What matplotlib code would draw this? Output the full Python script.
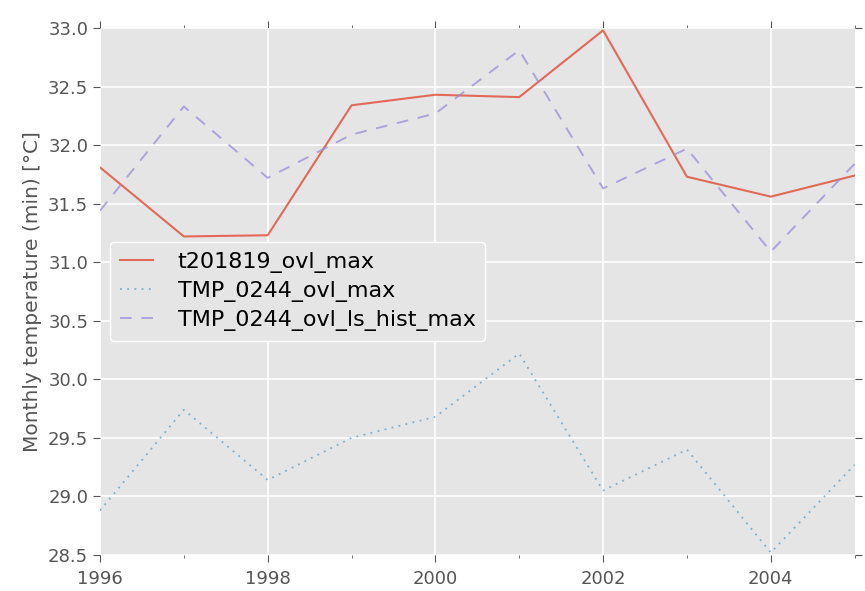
import numpy as np
import matplotlib.pyplot as plt
from matplotlib.ticker import MultipleLocator

years = np.arange(1996, 2006)
t201819_ovl_max = [31.81, 31.22, 31.23, 32.34, 32.43, 32.41, 32.98, 31.73, 31.56, 31.74]
tmp_ovl_max = [28.88, 29.74, 29.14, 29.50, 29.68, 30.22, 29.05, 29.40, 28.52, 29.27]
tmp_ls_hist_max = [31.44, 32.33, 31.72, 32.09, 32.27, 32.81, 31.63, 31.97, 31.09, 31.84]

plt.style.use('ggplot')
plt.rcParams['font.family'] = ['DejaVu Sans']

fig = plt.figure(figsize=(8.65, 5.91), dpi=100)
ax = fig.add_axes([0.1156, 0.061, 0.8724, 0.8916])

ax.plot(years, t201819_ovl_max, color='#E24A33', alpha=0.8, lw=1.5, ls='-', label='t201819_ovl_max')
ax.plot(years, tmp_ovl_max, color='#348ABD', alpha=0.6, lw=1.3, ls=(0, (1, 3)), label='TMP_0244_ovl_max')
ax.plot(years, tmp_ls_hist_max, color='#988ED5', alpha=0.75, lw=1.4, ls=(0, (6, 5)), label='TMP_0244_ovl_ls_hist_max')

ax.set_xlim(1996, 2005)
ax.set_ylim(28.5, 33.0)
ax.xaxis.set_major_locator(MultipleLocator(2))
ax.xaxis.set_minor_locator(MultipleLocator(1))
ax.yaxis.set_major_locator(MultipleLocator(0.5))
ax.yaxis.set_major_formatter(plt.FormatStrFormatter('%.1f'))

ax.set_facecolor('#E5E5E5')
ax.grid(True, which='major', color='white', lw=1.2)
ax.grid(False, which='minor')
for s in ax.spines.values():
    s.set_visible(False)
ax.tick_params(which='both', direction='out', top=True, right=True, colors='#555555', labelsize=13)
ax.tick_params(which='major', length=5)
ax.tick_params(which='minor', length=2)
ax.tick_params(axis='x', pad=6)

ax.set_ylabel('Monthly temperature (min) [°C]', fontsize=14.5, color='#555555')

leg = ax.legend(loc='upper left', bbox_to_anchor=(0.013, 0.594), fontsize=16,
                frameon=True, facecolor='#E5E5E5', edgecolor='white', framealpha=1,
                handlelength=1.5, handletextpad=1.1, borderpad=0.45, labelspacing=0.35,
                borderaxespad=0)
leg.get_frame().set_linewidth(1.0)

fig.savefig('out.png', dpi=100)
